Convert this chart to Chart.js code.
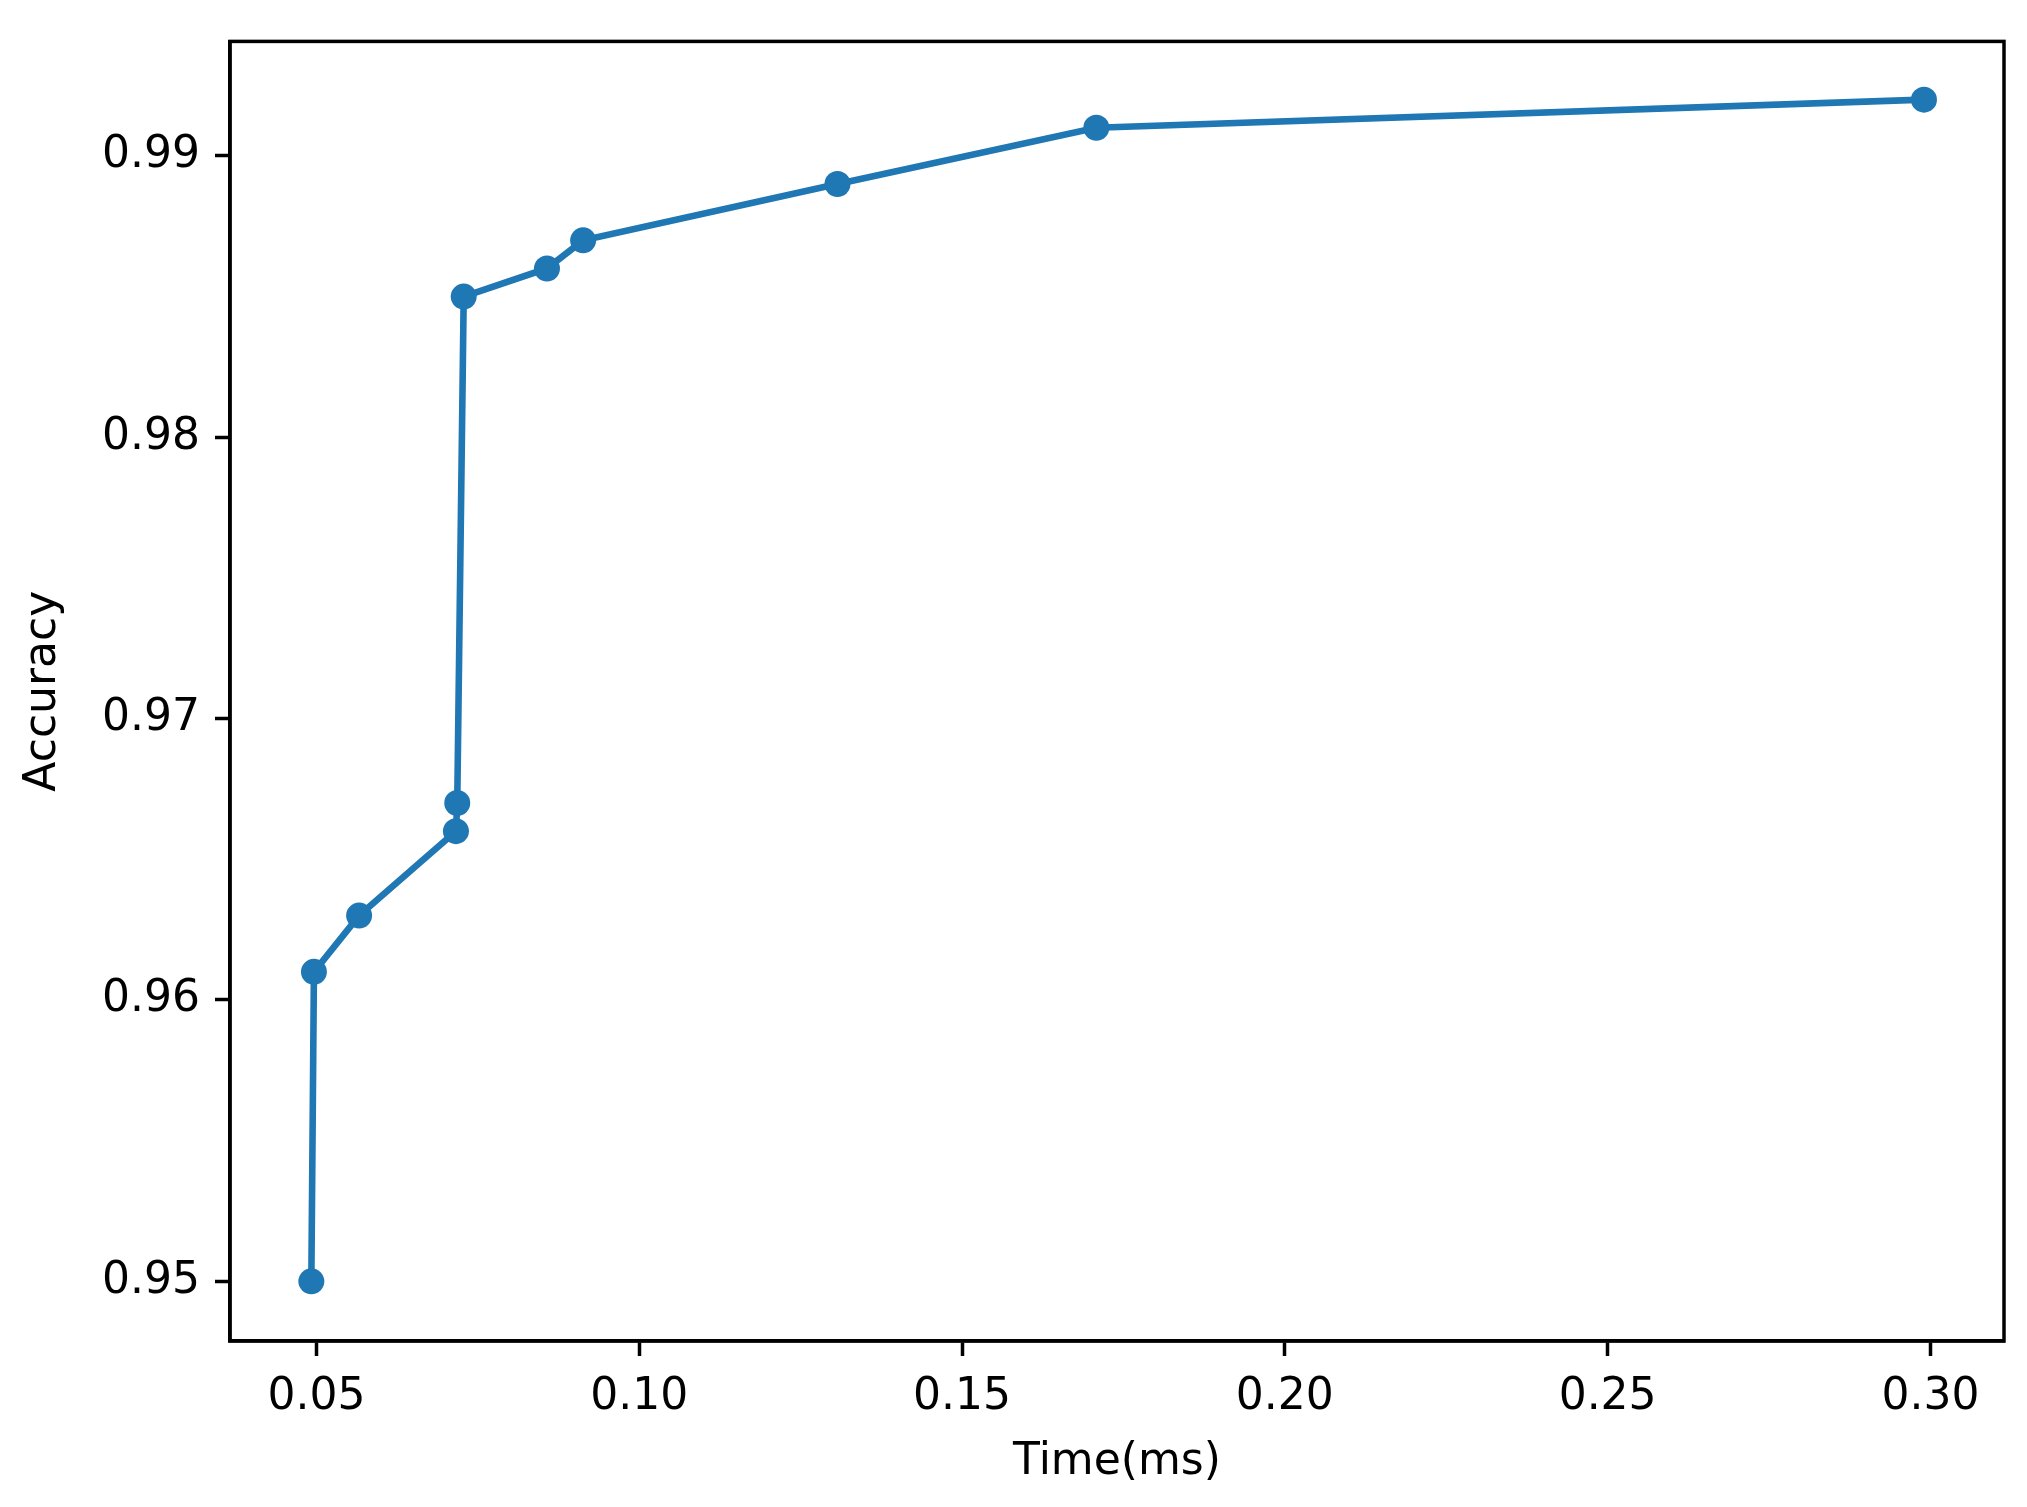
<!DOCTYPE html>
<html><head><script src="https://cdn.jsdelivr.net/npm/chart.js@4"></script>
<style>html,body{margin:0;background:#fff}#w{width:2027px;height:1507px}</style></head>
<body><div id="w"><canvas id="c"></canvas></div>
<script>
const timeMs = [0.0492,0.0496,0.0566,0.0716,0.0718,0.0728,0.0857,0.0913,0.1307,0.1708,0.2990];
const accuracy = [0.950,0.961,0.963,0.966,0.967,0.985,0.986,0.987,0.989,0.991,0.992];
const xTicks = [0.05,0.10,0.15,0.20,0.25,0.30];
const yTicks = [0.95,0.96,0.97,0.98,0.99];
const blue = '#1f77b4';
const F = {family:'"DejaVu Sans"', size:44};
const frame = {id:'frame', afterDraw(c){const a=c.chartArea,x=c.ctx;x.save();x.strokeStyle='#000';x.lineWidth=3.5;x.strokeRect(a.left,a.top,a.right-a.left,a.bottom-a.top);x.restore();}};
new Chart(document.getElementById('c'), {
  type:'scatter',
  data:{datasets:[{data:timeMs.map((t,i)=>({x:t,y:accuracy[i]})), showLine:true, borderColor:blue, backgroundColor:blue, borderWidth:6.6, pointRadius:13, pointHoverRadius:13, pointBorderWidth:0}]},
  options:{responsive:true, maintainAspectRatio:false, animation:false, devicePixelRatio:1,
    layout:{padding:{top:19,right:23,left:0,bottom:0}},
    plugins:{legend:{display:false},tooltip:{enabled:false}},
    scales:{
      x:{type:'linear', min:0.0366, max:0.3114,
        afterBuildTicks(s){s.ticks=xTicks.map(v=>({value:v}));},
        afterFit(s){s.height=166;},
        ticks:{font:F,color:'#000',padding:15,maxRotation:0,callback:v=>v.toFixed(2)},
        grid:{drawOnChartArea:false,drawTicks:true,tickLength:15,tickWidth:3.5,tickColor:'#000'},
        border:{display:true,color:'#000',width:3.5},
        title:{display:true,text:'Time(ms)',font:F,color:'#000',padding:{top:0,bottom:18}}},
      y:{type:'linear', min:0.94788, max:0.99407,
        afterBuildTicks(s){s.ticks=yTicks.map(v=>({value:v}));},
        afterFit(s){s.width=230;},
        ticks:{font:F,color:'#000',padding:15,callback:v=>v.toFixed(2)},
        grid:{drawOnChartArea:false,drawTicks:true,tickLength:15,tickWidth:3.5,tickColor:'#000'},
        border:{display:true,color:'#000',width:3.5},
        title:{display:true,text:'Accuracy',font:F,color:'#000',padding:{top:17,bottom:0}}}
    }},
  plugins:[frame]
});
</script></body></html>
